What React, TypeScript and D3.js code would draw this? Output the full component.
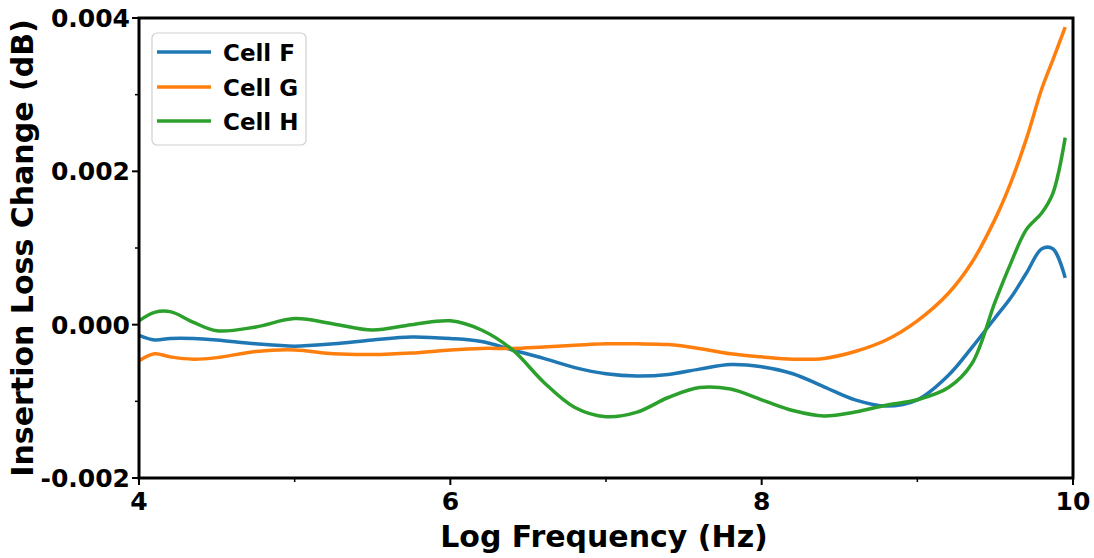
import React from "react";
import * as d3 from "d3";

// Log frequency sample points (log10 Hz)
const logFreq = [4.0, 4.1, 4.2, 4.35, 4.5, 4.75, 5.0, 5.25, 5.5, 5.75, 6.0, 6.2, 6.4, 6.6, 6.8, 7.0, 7.2, 7.4, 7.6, 7.8, 8.0, 8.2, 8.4, 8.6, 8.8, 9.0, 9.2, 9.35, 9.5, 9.6, 9.7, 9.8, 9.87, 9.95];

// Insertion loss change (dB) per cell
const cellF = [-0.00014, -0.0002, -0.00018, -0.00018, -0.0002, -0.00025, -0.00028, -0.00025, -0.0002, -0.00016, -0.00018, -0.00022, -0.00033, -0.00044, -0.00056, -0.00064, -0.00067, -0.00065, -0.00058, -0.00052, -0.00055, -0.00064, -0.00081, -0.00098, -0.00106, -0.00098, -0.00066, -0.0003, 0.00009, 0.00035, 0.00067, 0.00099, 0.00099, 0.00061];
const cellG = [-0.00047, -0.00038, -0.00042, -0.00045, -0.00043, -0.00035, -0.00033, -0.00038, -0.00039, -0.00037, -0.00033, -0.00031, -0.00031, -0.00029, -0.00027, -0.00025, -0.00025, -0.00026, -0.00031, -0.00038, -0.00042, -0.00045, -0.00044, -0.00035, -0.0002, 0.00005, 0.00041, 0.00081, 0.00138, 0.00185, 0.00242, 0.00308, 0.00345, 0.00388];
const cellH = [0.00005, 0.00016, 0.00017, 0.00003, -0.00008, -0.00003, 0.00008, 0.00001, -0.00007, 0.0, 0.00005, -0.00007, -0.00033, -0.00075, -0.00108, -0.0012, -0.00114, -0.00095, -0.00082, -0.00084, -0.00098, -0.00112, -0.00119, -0.00114, -0.00105, -0.00098, -0.00082, -0.00051, 0.0003, 0.0008, 0.00124, 0.00146, 0.00171, 0.00244];

const seriesNames = ["Cell F", "Cell G", "Cell H"];
const seriesColors = ["#1f77b4", "#ff7f0e", "#2ca02c"];

const xMajorTicks = [4, 6, 8, 10];
const xMinorTicks = [5, 7, 9];
const yMajorTicks = [-0.002, 0, 0.002, 0.004];
const yMinorTicks = [-0.001, 0.001, 0.003];

const W = 1094;
const H = 558;
const plot = { left: 139, right: 1073, top: 18, bottom: 478 };
const FONT = "'DejaVu Sans', sans-serif";

export default function App() {
  const x = d3.scaleLinear().domain([4, 10]).range([plot.left, plot.right]);
  const y = d3.scaleLinear().domain([-0.002, 0.004]).range([plot.bottom, plot.top]);

  const series = [cellF, cellG, cellH];
  const line = d3
    .line<number>()
    .x((_, i) => x(logFreq[i]))
    .y((d) => y(d))
    .curve(d3.curveCatmullRom.alpha(0.5));

  const legendRows = [52, 87, 121];

  return (
    <svg
      width={W}
      height={H}
      style={{ position: "absolute", left: 0, top: 0, background: "#fff" }}
    >
      <defs>
        <clipPath id="plotClip">
          <rect x={plot.left} y={plot.top} width={plot.right - plot.left} height={plot.bottom - plot.top} />
        </clipPath>
      </defs>

      {/* data lines */}
      <g clipPath="url(#plotClip)">
        {series.map((s, k) => (
          <path
            key={seriesNames[k]}
            d={line(s) || ""}
            fill="none"
            stroke={seriesColors[k]}
            strokeWidth={3.5}
            strokeLinejoin="round"
          />
        ))}
      </g>

      {/* frame */}
      <rect
        x={plot.left}
        y={plot.top}
        width={plot.right - plot.left}
        height={plot.bottom - plot.top}
        fill="none"
        stroke="#000"
        strokeWidth={3}
      />

      {/* x ticks */}
      {xMajorTicks.map((t) => (
        <g key={"xt" + t}>
          <line x1={x(t)} x2={x(t)} y1={plot.bottom} y2={plot.bottom + 7} stroke="#000" strokeWidth={2} />
          <text
            x={x(t)}
            y={510}
            textAnchor="middle"
            fontFamily={FONT}
            fontWeight="bold"
            fontSize={25}
          >
            {t}
          </text>
        </g>
      ))}
      {xMinorTicks.map((t) => (
        <line key={"xm" + t} x1={x(t)} x2={x(t)} y1={plot.bottom} y2={plot.bottom + 4} stroke="#000" strokeWidth={1.5} />
      ))}

      {/* y ticks */}
      {yMajorTicks.map((t) => (
        <g key={"yt" + t}>
          <line x1={plot.left - 7} x2={plot.left} y1={y(t)} y2={y(t)} stroke="#000" strokeWidth={2} />
          <text
            x={130}
            y={y(t) + 9}
            textAnchor="end"
            fontFamily={FONT}
            fontWeight="bold"
            fontSize={25}
          >
            {d3.format(".3f")(t).replace("−", "-")}
          </text>
        </g>
      ))}
      {yMinorTicks.map((t) => (
        <line key={"ym" + t} x1={plot.left - 4} x2={plot.left} y1={y(t)} y2={y(t)} stroke="#000" strokeWidth={1.5} />
      ))}

      {/* axis titles */}
      <text
        x={604}
        y={547}
        textAnchor="middle"
        fontFamily={FONT}
        fontWeight="bold"
        fontSize={30}
      >
        Log Frequency (Hz)
      </text>
      <text
        transform={`translate(33, 248) rotate(-90)`}
        textAnchor="middle"
        fontFamily={FONT}
        fontWeight="bold"
        fontSize={30}
      >
        Insertion Loss Change (dB)
      </text>

      {/* legend */}
      <g>
        <rect x={152} y={33} width={154} height={112} rx={5} ry={5} fill="#fff" fillOpacity={0.85} stroke="#d0d0d0" strokeWidth={1.2} />
        {seriesNames.map((name, k) => (
          <g key={"lg" + name}>
            <line x1={157} x2={211} y1={legendRows[k]} y2={legendRows[k]} stroke={seriesColors[k]} strokeWidth={3.5} />
            <text
              x={223}
              y={legendRows[k] + 9}
              fontFamily={FONT}
              fontWeight="bold"
              fontSize={23}
            >
              {name}
            </text>
          </g>
        ))}
      </g>
    </svg>
  );
}
